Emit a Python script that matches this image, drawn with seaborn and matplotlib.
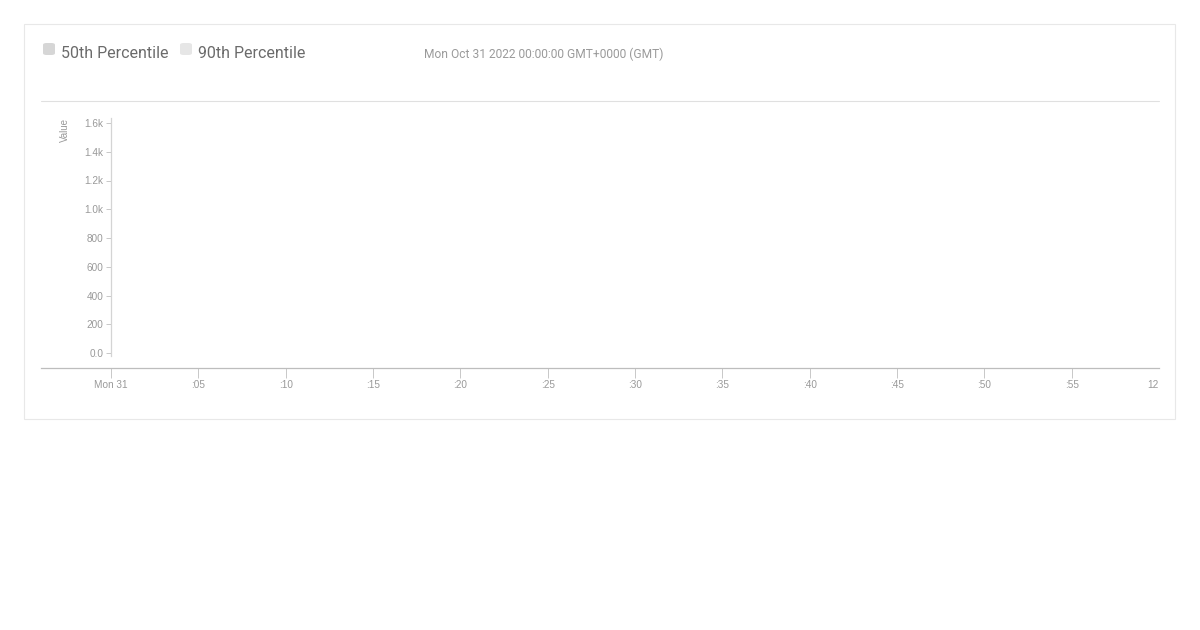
import matplotlib
matplotlib.use("Agg")
import matplotlib.pyplot as plt
from matplotlib.patches import FancyBboxPatch, Rectangle
from matplotlib.lines import Line2D
import seaborn as sns
import pandas as pd

# ---- data (the reference chart shows no plotted values) ----
series_names = ["50th Percentile", "90th Percentile"]
series_colors = ["#d6d6d6", "#e6e6e6"]
minutes_50 = []
values_50 = []
minutes_90 = []
values_90 = []
x_tick_minutes = [0, 5, 10, 15, 20, 25, 30, 35, 40, 45, 50, 55, 60]
x_tick_labels = ["Mon 31", ":05", ":10", ":15", ":20", ":25", ":30", ":35",
                 ":40", ":45", ":50", ":55", "12"]
y_tick_values = [0, 200, 400, 600, 800, 1000, 1200, 1400, 1600]
y_tick_labels = ["0.0", "200", "400", "600", "800", "1.0k", "1.2k", "1.4k", "1.6k"]
date_text = "Mon Oct 31 2022 00:00:00 GMT+0000 (GMT)"
y_label = "Value"

sns.set_theme(style="white")
plt.rcParams["font.family"] = ["Liberation Sans", "DejaVu Sans"]

W, H = 1200, 630
fig = plt.figure(figsize=(W / 100, H / 100), dpi=100)
fig.patch.set_facecolor("white")

def fx(px):
    return px / W

def fy(py):
    return 1 - py / H

# card border
fig.add_artist(Rectangle((fx(23.8), fy(419.2)), fx(1151.4), (395) / H,
                         transform=fig.transFigure, fill=False,
                         edgecolor="#e8e8e8", linewidth=0.8))
# separator under the legend
fig.add_artist(Line2D([fx(41), fx(1159)], [fy(100.8), fy(100.8)],
                      transform=fig.transFigure, color="#e0e0e0", linewidth=0.8))

# legend squares + text
for i, (name, col, x0) in enumerate(zip(series_names, series_colors, [43, 180])):
    fig.add_artist(FancyBboxPatch((fx(x0), fy(55)), fx(12), 12 / H,
                                  boxstyle="round,pad=0,rounding_size=0.003",
                                  transform=fig.transFigure,
                                  facecolor=col, edgecolor="none"))
    fig.text(fx(x0 + 18), fy(53.3), name, family=["Roboto", "DejaVu Sans"],
             fontsize=11.5, color="#6b6b6b", ha="left", va="center")

fig.text(fx(424), fy(54.3), date_text, family=["Roboto", "DejaVu Sans"],
         fontsize=8.62, color="#9a9a9a", ha="left", va="center")

# axes
px_per_min = (1159.6 - 111) / 60
x_left = -(111 - 41) / px_per_min
px_per_val = (353 - 123) / 1600
y_bottom = -(368 - 353) / px_per_val
y_top = 1600 + (123 - 118) / px_per_val

ax = fig.add_axes([fx(41), fy(368), fx(1159 - 41), (368 - 118) / H])
ax.set_facecolor("none")

df50 = pd.DataFrame({"minute": minutes_50, "value": values_50}, dtype=float)
df90 = pd.DataFrame({"minute": minutes_90, "value": values_90}, dtype=float)
if len(df50):
    sns.lineplot(data=df50, x="minute", y="value", ax=ax, color=series_colors[0])
if len(df90):
    sns.lineplot(data=df90, x="minute", y="value", ax=ax, color=series_colors[1])

ax.set_xlim(x_left, 60)
ax.set_ylim(y_bottom, y_top)

for s in ["top", "right"]:
    ax.spines[s].set_visible(False)
ax.spines["left"].set_position(("data", 0))
ax.spines["left"].set_bounds(-(356 - 353) / px_per_val, y_top)
ax.spines["left"].set_color("#d4d4d4")
ax.spines["left"].set_linewidth(0.9)
ax.spines["bottom"].set_color("#bdbdbd")
ax.spines["bottom"].set_linewidth(0.9)

ax.set_yticks(y_tick_values)
ax.set_yticklabels(y_tick_labels)
ax.set_xticks(x_tick_minutes)
ax.set_xticklabels(x_tick_labels)
ax.tick_params(axis="y", direction="out", length=3.6, width=0.7, color="#c8c8c8",
               pad=2.0, labelsize=7.2, labelcolor="#999999", left=True)
ax.tick_params(axis="x", direction="out", length=7.2, width=0.7, color="#c8c8c8",
               pad=1.8, labelsize=7.2, labelcolor="#999999", bottom=True)
ticks = ax.xaxis.get_major_ticks()
ticks[-1].tick1line.set_visible(False)
ticks[-1].label1.set_horizontalalignment("right")
ax.set_xlabel("")
ax.set_ylabel("")
ax.grid(False)

fig.text(fx(65), fy(130), y_label, rotation=90, fontsize=7, color="#999999",
         ha="center", va="center")

fig.savefig("out.png", dpi=100, facecolor="white")
